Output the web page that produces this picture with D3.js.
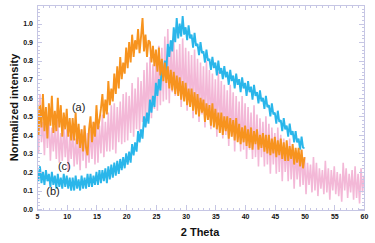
<!DOCTYPE html>
<html lang="en">
<head>
    <meta charset="UTF-8">
    <title>d3.</title>
    <script src="https://cdn.jsdelivr.net/npm/d3@7"></script>
    <style>
        body { margin: 0; background: #fff; }
        .axis path,
        .axis line {
            fill: none;
            stroke: #c6c6e4;
            shape-rendering: crispEdges;
        }
        .axis text {
            font-family: "Liberation Sans", Arial, sans-serif;
            font-size: 7px;
            font-weight: bold;
            fill: #111;
        }
        .title {
            font-family: "Liberation Sans", Arial, sans-serif;
            font-size: 11px;
            font-weight: bold;
            fill: #111;
        }
        .tag {
            font-family: "Liberation Sans", Arial, sans-serif;
            font-size: 11px;
            fill: #222;
            text-anchor: middle;
        }
        .trace { fill: none; stroke-linejoin: bevel; }
    </style>
</head>
<body>
<script>
	// 2 theta grid for each scan
	var thetaAB = d3.range(5, 50.001, 0.25);
	var thetaC = d3.range(5, 60.001, 0.25);

	// (a) orange, 5..50
	var seriesA = [
		.60,.40,.56,.44, .62,.42,.55,.38, .57,.45,.61,.41, .53,.42,.60,.44, .56,.39,.52,.43,
		.54,.39,.49,.37, .49,.37,.52,.35, .46,.33,.43,.31, .45,.33,.29,.43, .50,.36,.47,.39,
		.56,.43,.48,.54, .62,.49,.59,.51, .69,.56,.65,.58, .73,.62,.77,.65, .82,.70,.79,.73,
		.87,.76,.90,.79, .94,.82,.91,.86, .97,.84,.93,1.03, .85,.94,.82,.91, .90,.79,.88,.77,
		.86,.74,.87,.72, .81,.69,.79,.68, .77,.65,.75,.64, .74,.62,.72,.61, .71,.59,.69,.58,
		.68,.56,.65,.55, .65,.53,.63,.51, .62,.50,.60,.52, .59,.47,.57,.48, .56,.45,.57,.44,
		.54,.43,.52,.41, .52,.40,.50,.42, .50,.38,.49,.39, .48,.37,.49,.36, .46,.35,.44,.36,
		.45,.34,.43,.33, .44,.32,.42,.35, .43,.32,.40,.33, .41,.31,.40,.30, .40,.29,.38,.30,
		.39,.28,.37,.29, .38,.27,.36,.26, .37,.26,.34,.27, .35,.24,.33,.25, .33,.23,.32,.22,
		.28
	];

	// (b) blue, 5..50
	var seriesB = [
		.22,.15,.23,.14, .20,.13,.21,.15, .19,.12,.20,.13, .18,.11,.19,.12, .17,.11,.19,.12,
		.18,.11,.17,.10, .17,.10,.18,.11, .16,.10,.18,.11, .17,.11,.19,.12, .19,.12,.18,.13,
		.20,.13,.21,.14, .21,.15,.22,.14, .23,.16,.24,.17, .25,.18,.26,.19, .27,.21,.28,.22,
		.30,.24,.31,.25, .35,.29,.36,.31, .42,.36,.43,.38, .50,.44,.52,.46, .59,.52,.61,.55,
		.68,.61,.70,.64, .78,.71,.80,.74, .89,.82,.91,.85, .98,.90,1.03,.92, 1.00,.93,1.04,.94,
		.98,.91,.99,.92, .94,.87,.95,.88, .89,.83,.90,.84, .85,.79,.86,.80, .81,.75,.82,.76,
		.79,.72,.80,.73, .76,.70,.77,.71, .74,.67,.75,.69, .72,.65,.73,.67, .70,.63,.71,.65,
		.68,.61,.69,.63, .66,.59,.67,.61, .63,.57,.64,.58, .60,.54,.61,.55, .56,.50,.57,.51,
		.52,.46,.53,.47, .48,.42,.49,.43, .45,.39,.46,.40, .42,.36,.42,.36, .38,.32,.39,.33,
		.33
	];

	// (c) pink, 5..60
	var seriesC = [
		.55,.30,.62,.36, .47,.29,.52,.33, .50,.26,.44,.31, .45,.27,.48,.25, .41,.26,.46,.28,
		.43,.20,.40,.27, .44,.23,.38,.24, .40,.21,.43,.26, .45,.22,.41,.25, .43,.27,.47,.24,
		.48,.25,.45,.30, .51,.28,.47,.31, .52,.31,.56,.32, .57,.30,.55,.36, .58,.35,.62,.36,
		.63,.37,.61,.41, .68,.39,.65,.43, .71,.42,.69,.47, .75,.45,.79,.48, .82,.49,.78,.54,
		.85,.53,.88,.56, .87,.58,.93,.59, .97,.57,.89,.63, .91,.61,.86,.62, .89,.55,.92,.59,
		.87,.53,.85,.57, .83,.49,.86,.54, .81,.47,.79,.51, .77,.44,.80,.49, .75,.43,.73,.45,
		.70,.39,.74,.43, .69,.38,.67,.40, .64,.34,.67,.39, .63,.31,.61,.37, .58,.31,.61,.32,
		.57,.27,.55,.32, .52,.27,.56,.28, .51,.23,.49,.28, .47,.23,.50,.24, .46,.19,.44,.24,
		.41,.19,.44,.20, .40,.15,.38,.20, .35,.15,.38,.16, .34,.11,.32,.16, .29,.12,.32,.13,
		.28,.08,.25,.13, .24,.09,.28,.10, .25,.07,.22,.11, .21,.08,.26,.09, .22,.05,.21,.10,
		.23,.08,.20,.07, .19,.04,.25,.10, .22,.06,.19,.09, .21,.05,.23,.06, .19,.03,.22,.09,
		.18
	];

	var xTicks = [5, 10, 15, 20, 25, 30, 35, 40, 45, 50, 55, 60];
	var yTicks = [0, 0.1, 0.2, 0.3, 0.4, 0.5, 0.6, 0.7, 0.8, 0.9, 1.0];
	var tags = [["(a)", 12, 0.53], ["(c)", 9.6, 0.21], ["(b)", 7.7, 0.075]];

	var width = 375, height = 243;
	var svg = d3.select("body")
		.append("svg")
		.attr("width", width)
		.attr("height", height);
	var box = {left: 37, right: 364, top: 5, bottom: 210};

	var xScale = d3.scaleLinear().domain([5, 60]).range([box.left, box.right]);
	var yScale = d3.scaleLinear().domain([-0.005, 1.1]).range([box.bottom, box.top]);

	svg.append("clipPath").attr("id", "plot")
		.append("rect")
		.attr("x", box.left).attr("y", box.top)
		.attr("width", box.right - box.left).attr("height", box.bottom - box.top);

	var line = d3.line()
		.x(function (d) { return xScale(d[0]); })
		.y(function (d) { return yScale(d[1]); });

	// pink under, then blue, orange on top
	var traces = [
		[d3.zip(thetaC, seriesC), "#f3b8d7", 1.6],
		[d3.zip(thetaAB, seriesB), "#2ab6ea", 1.9],
		[d3.zip(thetaAB, seriesA), "#f7931e", 1.9]
	];
	svg.append("g").attr("clip-path", "url(#plot)")
		.selectAll("path")
		.data(traces)
		.enter()
		.append("path")
		.attr("class", "trace")
		.attr("stroke", function (d) { return d[1]; })
		.attr("stroke-width", function (d) { return d[2]; })
		.attr("d", function (d) { return line(d[0]); });

	// frame with inward ticks on every side
	var xMinor = d3.range(5, 60.001, 1);
	var yMinor = d3.range(0, 1.09, 0.02);
	function frame(axis, tx, ty, size, vals, labels) {
		svg.append("g")
			.attr("class", "axis")
			.attr("transform", "translate(" + tx + "," + ty + ")")
			.call(axis.tickValues(vals).tickSize(-size).tickPadding(4).tickSizeOuter(0)
				.tickFormat(labels ? labels : ""));
	}
	frame(d3.axisBottom(xScale), 0, box.bottom, 2.5, xMinor, null);
	frame(d3.axisTop(xScale), 0, box.top, 2.5, xMinor, null);
	frame(d3.axisLeft(yScale), box.left, 0, 2.5, yMinor, null);
	frame(d3.axisRight(yScale), box.right, 0, 2.5, yMinor, null);
	frame(d3.axisBottom(xScale), 0, box.bottom, 5, xTicks, d3.format("d"));
	frame(d3.axisTop(xScale), 0, box.top, 5, xTicks, null);
	frame(d3.axisLeft(yScale), box.left, 0, 5, yTicks, d3.format(".1f"));
	frame(d3.axisRight(yScale), box.right, 0, 5, yTicks, null);

	svg.append("rect")
		.attr("x", box.left).attr("y", box.top)
		.attr("width", box.right - box.left).attr("height", box.bottom - box.top)
		.attr("fill", "none").attr("stroke", "#c6c6e4")
		.attr("shape-rendering", "crispEdges");

	svg.selectAll(".tag")
		.data(tags)
		.enter()
		.append("text")
		.attr("class", "tag")
		.attr("x", function (d) { return xScale(d[1]); })
		.attr("y", function (d) { return yScale(d[2]); })
		.text(function (d) { return d[0]; });

	svg.append("text")
		.attr("class", "title")
		.attr("text-anchor", "middle")
		.attr("x", 200).attr("y", 236)
		.text("2 Theta");
	svg.append("text")
		.attr("class", "title")
		.attr("text-anchor", "middle")
		.attr("transform", "translate(18," + ((box.top + box.bottom) / 2) + ") rotate(-90)")
		.text("Normalized intensity");
</script>
</body>
</html>
